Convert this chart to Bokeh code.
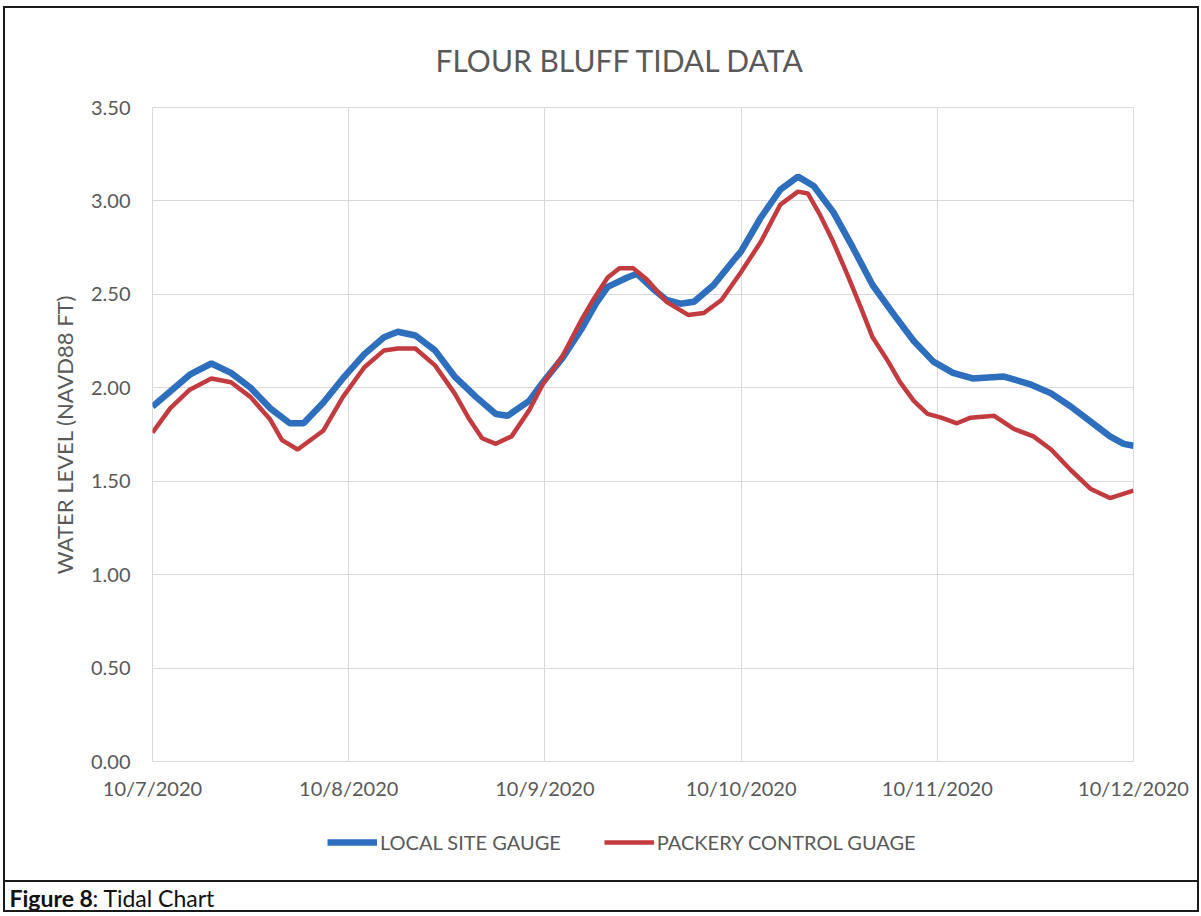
from bokeh.plotting import figure
from bokeh.layouts import column
from bokeh.models import (Range1d, FixedTicker, NumeralTickFormatter, Label, Legend,
                          LegendItem)
from bokeh.embed import file_html
from bokeh.resources import INLINE

# ---------------- data ----------------
x_tick_days = [0, 1, 2, 3, 4, 5]
x_tick_labels = ["10/7/2020", "10/8/2020", "10/9/2020", "10/10/2020", "10/11/2020", "10/12/2020"]
y_ticks = [0.0, 0.5, 1.0, 1.5, 2.0, 2.5, 3.0, 3.5]

# days after 10/7/2020 00:00, water level (NAVD88 ft)
local_days = [0.00, 0.09, 0.19, 0.30, 0.40, 0.50, 0.60, 0.70, 0.77, 0.87, 0.97, 1.08, 1.18,
              1.25, 1.34, 1.44, 1.54, 1.65, 1.75, 1.81, 1.92, 1.99, 2.09, 2.19, 2.26, 2.32,
              2.42, 2.47, 2.55, 2.62, 2.69, 2.76, 2.86, 2.96, 3.00, 3.10, 3.20, 3.29, 3.37,
              3.47, 3.57, 3.67, 3.78, 3.88, 3.98, 4.08, 4.18, 4.34, 4.47, 4.58, 4.68, 4.78,
              4.88, 4.95, 5.00]
local_level = [1.90, 1.98, 2.07, 2.13, 2.08, 2.00, 1.89, 1.81, 1.81, 1.92, 2.05, 2.18, 2.27,
               2.30, 2.28, 2.20, 2.06, 1.95, 1.86, 1.85, 1.93, 2.03, 2.16, 2.32, 2.45, 2.54,
               2.59, 2.61, 2.53, 2.47, 2.45, 2.46, 2.55, 2.68, 2.73, 2.91, 3.06, 3.13, 3.08,
               2.94, 2.75, 2.55, 2.39, 2.25, 2.14, 2.08, 2.05, 2.06, 2.02, 1.97, 1.90, 1.82,
               1.74, 1.70, 1.69]

packery_days = [0.00, 0.09, 0.19, 0.30, 0.40, 0.50, 0.60, 0.66, 0.74, 0.87, 0.97, 1.08, 1.18,
                1.25, 1.34, 1.44, 1.54, 1.61, 1.68, 1.75, 1.83, 1.92, 1.99, 2.09, 2.19, 2.24,
                2.32, 2.38, 2.45, 2.52, 2.62, 2.73, 2.81, 2.90, 3.00, 3.10, 3.20, 3.29, 3.34,
                3.40, 3.47, 3.54, 3.61, 3.67, 3.75, 3.81, 3.88, 3.95, 4.02, 4.10, 4.17, 4.29,
                4.39, 4.49, 4.58, 4.68, 4.78, 4.88, 5.00]
packery_level = [1.76, 1.89, 1.99, 2.05, 2.03, 1.95, 1.83, 1.72, 1.67, 1.77, 1.95, 2.11, 2.20,
                 2.21, 2.21, 2.12, 1.97, 1.84, 1.73, 1.70, 1.74, 1.88, 2.02, 2.17, 2.37, 2.46,
                 2.59, 2.64, 2.64, 2.58, 2.46, 2.39, 2.40, 2.47, 2.62, 2.78, 2.98, 3.05, 3.04,
                 2.93, 2.78, 2.61, 2.43, 2.27, 2.14, 2.03, 1.93, 1.86, 1.84, 1.81, 1.84, 1.85,
                 1.78, 1.74, 1.67, 1.56, 1.46, 1.41, 1.45]

title_text = "FLOUR BLUFF TIDAL DATA"
y_label = "WATER LEVEL (NAVD88 FT)"
series_names = ["LOCAL SITE GAUGE", "PACKERY CONTROL GUAGE"]
caption_bold = "Figure 8"
caption_rest = ": Tidal Chart"

# ---------------- styling constants ----------------
W = 1192
H_MAIN = 802
H_LEG = 70
H_CAP = 30
FONT = "Lato"
GRAY = "#595959"
GRID = "#d9d9d9"
INK = "#1a1a1a"
BLUE = "#2e6fbd"
RED = "#c23b3f"
NAN = float("nan")

# ---------------- main chart ----------------
p = figure(width=W, height=H_MAIN, output_backend="svg", toolbar_location=None, tools="",
           x_range=Range1d(0, 5), y_range=Range1d(0, 3.5),
           min_border_left=147, min_border_right=W - 1128, min_border_top=99,
           min_border_bottom=49)
p.frame_align = False
p.background_fill_color = "white"
p.border_fill_color = "white"
p.outline_line_color = GRID
p.outline_line_width = 1

p.title.text = title_text
p.title.align = "left"
p.title.offset = 283
p.title.text_font = FONT
p.title.text_font_size = "30px"
p.title.text_font_style = "normal"
p.title.text_color = GRAY
p.title.standoff = 59

p.xaxis.ticker = FixedTicker(ticks=x_tick_days)
p.xaxis.major_label_overrides = {d: lab for d, lab in zip(x_tick_days, x_tick_labels)}
p.yaxis.ticker = FixedTicker(ticks=y_ticks)
p.yaxis.formatter = NumeralTickFormatter(format="0.00")

for ax in (p.xaxis, p.yaxis):
    ax.axis_line_color = None
    ax.major_tick_line_color = None
    ax.minor_tick_line_color = None
    ax.major_tick_out = 0
    ax.major_tick_in = 0
    ax.minor_tick_out = 0
    ax.minor_tick_in = 0
    ax.major_label_text_font = FONT
    ax.major_label_text_font_size = "20px"
    ax.major_label_text_color = GRAY
p.xaxis.major_label_standoff = 14
p.yaxis.major_label_standoff = 22
p.yaxis.axis_label = y_label
p.yaxis.axis_label_text_font = FONT
p.yaxis.axis_label_text_font_style = "normal"
p.yaxis.axis_label_text_font_size = "22px"
p.yaxis.axis_label_text_color = GRAY
p.yaxis.axis_label_standoff = 10

p.xgrid.grid_line_color = GRID
p.ygrid.grid_line_color = GRID

p.line(local_days, local_level, line_color=BLUE, line_width=6.5)
p.line(packery_days, packery_level, line_color=RED, line_width=4.5)

# ---------------- legend strip ----------------
leg_fig = figure(width=W, height=H_LEG, output_backend="svg", toolbar_location=None, tools="",
                 x_range=Range1d(0, W), y_range=Range1d(0, H_LEG),
                 min_border=0, x_axis_type=None, y_axis_type=None)
leg_fig.frame_align = False
leg_fig.grid.visible = False
leg_fig.outline_line_color = None
leg_fig.background_fill_color = "white"
leg_fig.border_fill_color = "white"
# legend key proxies (no visible data), styled like the chart's series
k_local = leg_fig.line(x=[NAN], y=[NAN], line_color=BLUE, line_width=6.5)
k_pack = leg_fig.line(x=[NAN], y=[NAN], line_color=RED, line_width=4.5)
legend = Legend(items=[LegendItem(label=series_names[0], renderers=[k_local]),
                       LegendItem(label=series_names[1], renderers=[k_pack])],
                orientation="horizontal", location=(322, 26), margin=0, spacing=43,
                glyph_width=50, glyph_height=20, label_standoff=3, padding=0,
                border_line_color=None, background_fill_alpha=0,
                label_text_font=FONT, label_text_font_size="20px", label_text_color=GRAY)
leg_fig.add_layout(legend)

# ---------------- caption strip ----------------
cap = figure(width=W, height=H_CAP, output_backend="svg", toolbar_location=None, tools="",
             x_range=Range1d(0, W), y_range=Range1d(0, H_CAP),
             min_border=0, x_axis_type=None, y_axis_type=None)
cap.frame_align = False
cap.grid.visible = False
cap.background_fill_color = "white"
cap.border_fill_color = "white"
cap.outline_line_color = None
cap.styles = {"border-top": "2px solid " + INK}
cap.add_layout(Label(x=4, y=15, text=caption_bold, text_align="left",
                     text_baseline="middle", text_font=FONT, text_font_style="bold",
                     text_font_size="23px", text_color="#111111"))
cap.add_layout(Label(x=87, y=15, text=caption_rest, text_align="left",
                     text_baseline="middle", text_font=FONT,
                     text_font_size="23px", text_color="#111111"))

page = column(p, leg_fig, cap, spacing=0, margin=(6, 0, 0, 3),
              styles={"border": "2px solid " + INK})
open("out.html", "w").write(file_html(page, INLINE))
